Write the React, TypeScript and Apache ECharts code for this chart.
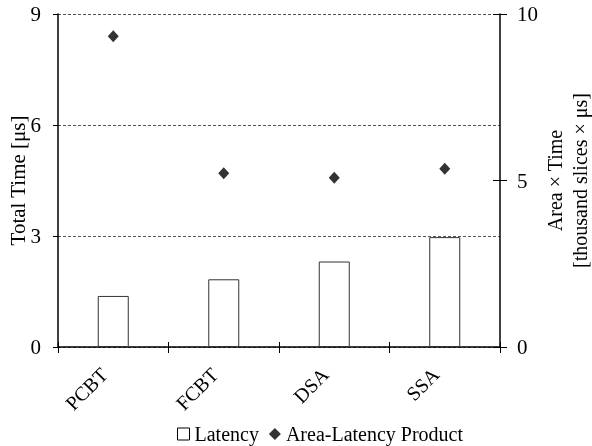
import React, { useEffect, useRef } from "react";
import * as echarts from "echarts";

const categories = ["PCBT", "FCBT", "DSA", "SSA"];
const latency = [1.38, 1.83, 2.31, 2.97];
const areaLatency = [9.33, 5.22, 5.08, 5.35];
const leftTicks = { min: 0, max: 9, interval: 3 };
const rightTicks = { min: 0, max: 10, interval: 5 };

const FONT = "'Liberation Serif', 'Times New Roman', serif";

export default function App() {
  const ref = useRef<HTMLDivElement>(null);
  useEffect(() => {
    if (!ref.current) return;
    const chart = echarts.init(ref.current, undefined, { renderer: "svg" });
    const axisLine = { show: true, lineStyle: { color: "#000", width: 1.5 } };
    chart.setOption({
      animation: false,
      textStyle: { fontFamily: FONT },
      grid: {
        left: 58,
        width: 442,
        top: 14,
        height: 333,
        containLabel: false,
        outerBoundsMode: "none",
      },
      legend: {
        top: 419,
        left: 172,
        itemGap: 10,
        itemWidth: 12,
        itemHeight: 12,
        textStyle: { fontFamily: FONT, fontSize: 20, color: "#000" },
        data: [
          { name: "Latency", icon: "rect", itemStyle: { color: "#fff", borderColor: "#000", borderWidth: 1 } },
          { name: "Area-Latency Product", icon: "diamond" },
        ],
      },
      xAxis: [
        {
          type: "category",
          data: categories,
          position: "bottom",
          axisLine,
          axisTick: { show: true, length: 6, lineStyle: { color: "#000", width: 1 } },
          axisLabel: {
            rotate: 45,
            margin: 15,
            padding: [0, 13, 0, 0],
            fontFamily: FONT,
            fontSize: 20,
            color: "#000",
          },
        },
        {
          type: "category",
          data: categories,
          position: "bottom",
          axisLine: { show: false },
          axisTick: { show: true, inside: true, length: 5, lineStyle: { color: "#000", width: 1 } },
          axisLabel: { show: false },
        },
      ],
      yAxis: [
        {
          type: "value",
          ...leftTicks,
          position: "left",
          name: "Total Time [μs]",
          nameLocation: "middle",
          nameGap: 30,
          nameMoveOverlap: false,
          nameTextStyle: { fontFamily: FONT, fontSize: 21, color: "#000" },
          axisLine,
          axisTick: { show: true, length: 5, lineStyle: { color: "#000", width: 1 } },
          axisLabel: { margin: 17, fontFamily: FONT, fontSize: 21, color: "#000" },
          splitLine: { show: true, lineStyle: { color: "#555", width: 1, type: [3, 2] } },
        },
        {
          type: "value",
          ...rightTicks,
          position: "right",
          name: "Area × Time\n[thousand slices × μs]",
          nameLocation: "middle",
          nameGap: 42,
          nameMoveOverlap: false,
          nameTextStyle: { fontFamily: FONT, fontSize: 20, color: "#000", lineHeight: 25 },
          axisLine,
          axisTick: { show: true, length: 7, lineStyle: { color: "#000", width: 1 } },
          axisLabel: { margin: 17, fontFamily: FONT, fontSize: 21, color: "#000" },
          splitLine: { show: false },
        },
        {
          type: "value",
          ...rightTicks,
          position: "right",
          axisLine: { show: false },
          axisTick: { show: true, inside: true, length: 7, lineStyle: { color: "#000", width: 1 } },
          axisLabel: { show: false },
          splitLine: { show: false },
        },
      ],
      series: [
        {
          name: "Latency",
          type: "bar",
          data: latency,
          xAxisIndex: 0,
          yAxisIndex: 0,
          barWidth: 31,
          itemStyle: { color: "#fff", borderColor: "#333", borderWidth: 1 },
        },
        {
          name: "Area-Latency Product",
          type: "scatter",
          data: areaLatency,
          xAxisIndex: 0,
          yAxisIndex: 1,
          symbol: "diamond",
          symbolSize: [11, 12],
          itemStyle: { color: "#000" },
        },
      ],
    });
    return () => chart.dispose();
  }, []);
  return (
    <div
      ref={ref}
      style={{ position: "fixed", left: 0, top: 0, width: 592, height: 446 }}
    />
  );
}
